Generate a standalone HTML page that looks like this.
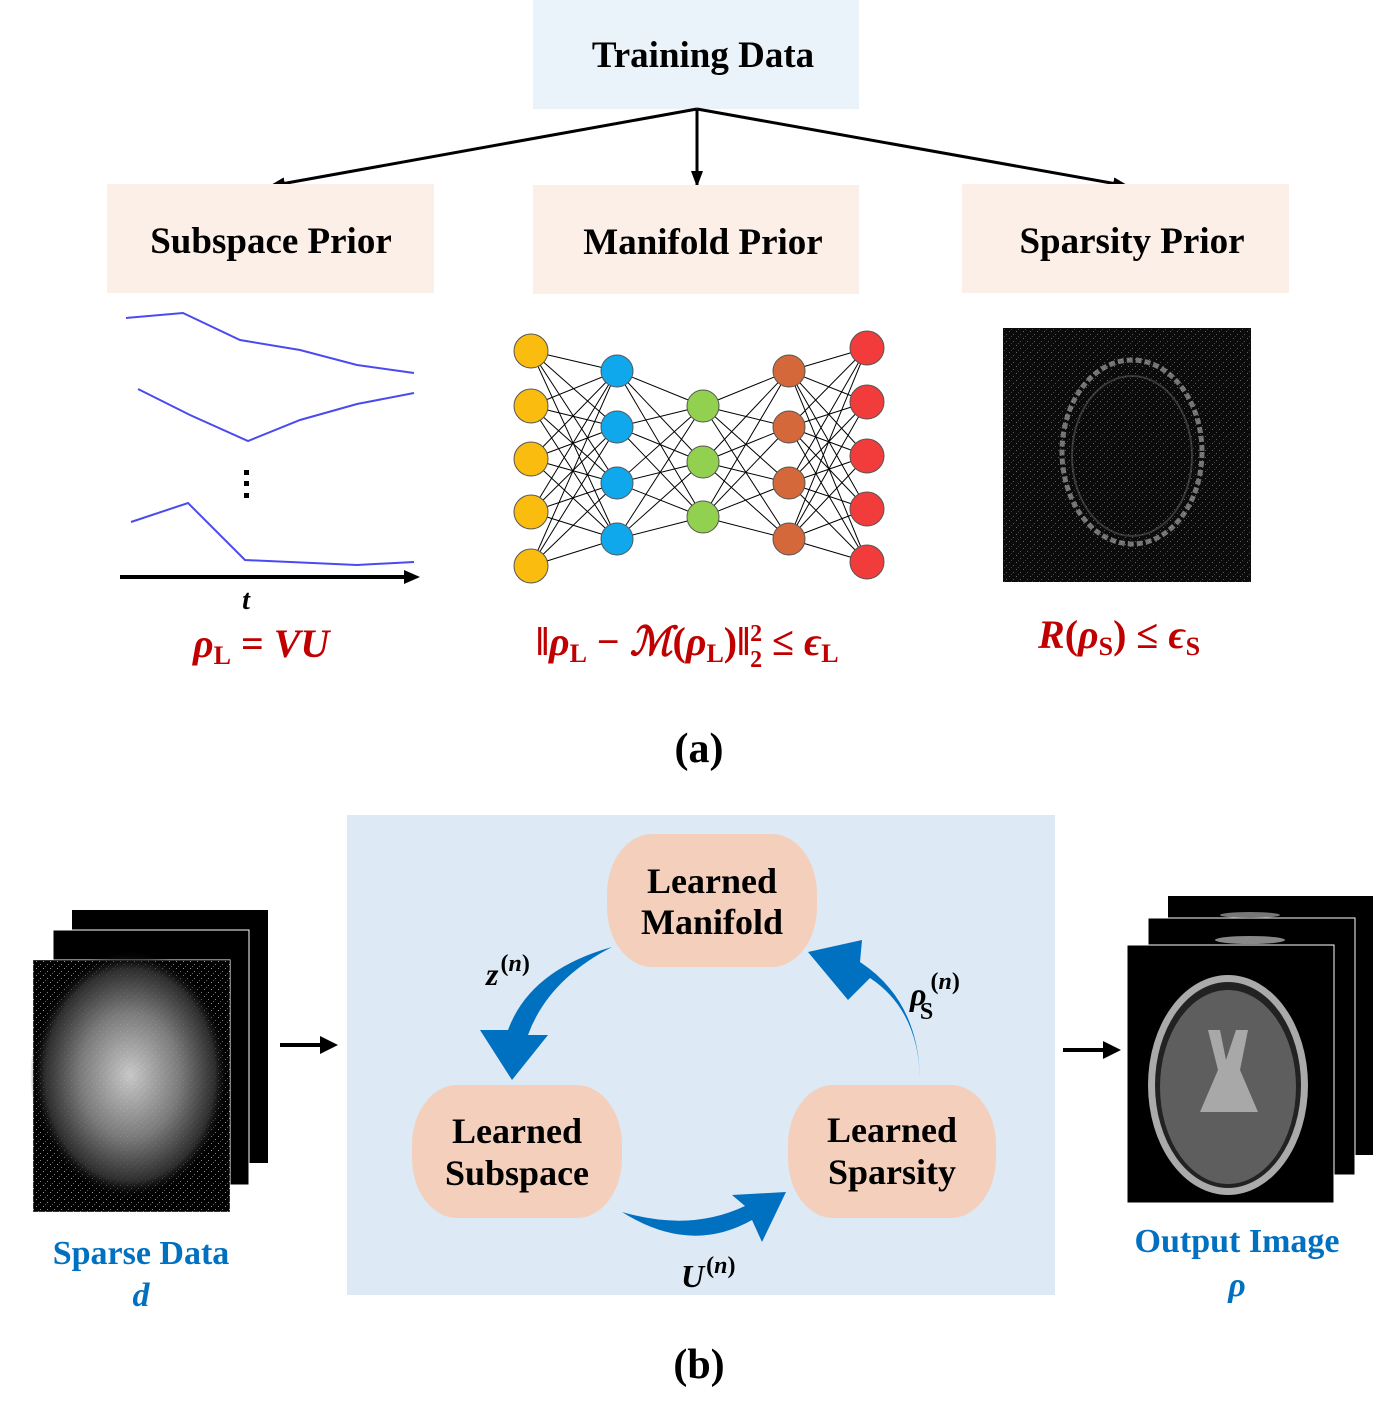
<!DOCTYPE html>
<html><head><meta charset="utf-8"><style>
body{margin:0;background:#fff;}
svg{display:block;}
.t{font-family:"Liberation Serif",serif;font-weight:bold;}
</style></head><body>
<svg width="1399" height="1419" viewBox="0 0 1399 1419" xmlns="http://www.w3.org/2000/svg">
<defs>
<marker id="ah" markerWidth="16" markerHeight="12" refX="15" refY="6" orient="auto" markerUnits="userSpaceOnUse"><path d="M0,0 L16,6 L0,12 Z" fill="#000"/></marker>
<radialGradient id="sp" cx="50%" cy="50%" r="50%"><stop offset="0" stop-color="#ddd"/><stop offset="0.5" stop-color="#888"/><stop offset="0.85" stop-color="#333"/><stop offset="1" stop-color="#000" stop-opacity="0"/></radialGradient>
<pattern id="noise" width="7" height="7" patternUnits="userSpaceOnUse"><rect width="7" height="7" fill="#000"/><rect x="1" y="2" width="1" height="1" fill="#fff"/><rect x="5" y="5" width="1" height="1" fill="#ddd"/><rect x="3" y="0" width="1" height="1" fill="#999"/></pattern>
</defs>
<rect x="533" y="0" width="326" height="109" fill="#ebf3fa"/>
<text x="703" y="67" class="t" font-size="37" text-anchor="middle">Training Data</text>
<line x1="697" y1="109" x2="697" y2="186" stroke="#000" stroke-width="3" marker-end="url(#ah)"/>
<line x1="697" y1="109" x2="270" y2="186" stroke="#000" stroke-width="3" marker-end="url(#ah)"/>
<line x1="697" y1="109" x2="1128" y2="186" stroke="#000" stroke-width="3" marker-end="url(#ah)"/>
<rect x="107" y="184" width="327" height="109" fill="#fcefe7"/>
<rect x="533" y="185" width="326" height="109" fill="#fcefe7"/>
<rect x="962" y="184" width="327" height="109" fill="#fcefe7"/>
<text x="271" y="253" class="t" font-size="37" text-anchor="middle">Subspace Prior</text>
<text x="703" y="254" class="t" font-size="37" text-anchor="middle">Manifold Prior</text>
<text x="1132" y="253" class="t" font-size="37" text-anchor="middle">Sparsity Prior</text>
<g fill="none" stroke="#4a4af0" stroke-width="2">
<polyline points="126,318 183,313 240,340 300,350 357,365 414,373"/>
<polyline points="138,389 190,415 248,441 300,420 357,404 414,393"/>
<polyline points="131,522 188,503 245,560 357,565 414,562"/>
</g>
<rect x="244" y="470" width="5" height="5"/><rect x="244" y="481" width="5" height="5"/><rect x="244" y="493" width="5" height="5"/>
<line x1="120" y1="577" x2="405" y2="577" stroke="#000" stroke-width="4"/>
<path d="M404,570 L420,577 L404,584 Z"/>
<text x="246" y="609" class="t" font-size="28" font-style="italic" text-anchor="middle">t</text>
<g class="t" fill="#c00000" font-style="italic">
<text x="193" y="657" font-size="40">ρ<tspan font-size="26" font-style="normal" dy="7">L</tspan><tspan dy="-7" font-style="normal"> = </tspan>VU</text>
<text x="536" y="655" font-size="40"><tspan font-style="normal">‖</tspan>ρ<tspan font-size="26" font-style="normal" dy="7">L</tspan><tspan dy="-7" font-style="normal"> − </tspan>ℳ<tspan font-style="normal">(</tspan>ρ<tspan font-size="26" font-style="normal" dy="7">L</tspan><tspan dy="-7" font-style="normal">)‖</tspan><tspan font-size="24" font-style="normal" dy="-14">2</tspan><tspan font-size="24" font-style="normal" dx="-12" dy="26">2</tspan><tspan dy="-12" font-style="normal"> ≤ </tspan>ϵ<tspan font-size="26" font-style="normal" dy="7">L</tspan></text>
<text x="1038" y="648" font-size="40">R<tspan font-style="normal">(</tspan>ρ<tspan font-size="26" font-style="normal" dy="7">S</tspan><tspan dy="-7" font-style="normal">) ≤ </tspan>ϵ<tspan font-size="26" font-style="normal" dy="7">S</tspan></text>
</g>
<g stroke="#000" stroke-width="1">
<path d="M531,351L617,371M531,351L617,427M531,351L617,483M531,351L617,539M531,406L617,371M531,406L617,427M531,406L617,483M531,406L617,539M531,459L617,371M531,459L617,427M531,459L617,483M531,459L617,539M531,512L617,371M531,512L617,427M531,512L617,483M531,512L617,539M531,566L617,371M531,566L617,427M531,566L617,483M531,566L617,539"/>
<path d="M617,371L703,406M617,371L703,462M617,371L703,517M617,427L703,406M617,427L703,462M617,427L703,517M617,483L703,406M617,483L703,462M617,483L703,517M617,539L703,406M617,539L703,462M617,539L703,517"/>
<path d="M789,371L703,406M789,371L703,462M789,371L703,517M789,427L703,406M789,427L703,462M789,427L703,517M789,483L703,406M789,483L703,462M789,483L703,517M789,539L703,406M789,539L703,462M789,539L703,517"/>
<path d="M867,348L789,371M867,348L789,427M867,348L789,483M867,348L789,539M867,402L789,371M867,402L789,427M867,402L789,483M867,402L789,539M867,456L789,371M867,456L789,427M867,456L789,483M867,456L789,539M867,509L789,371M867,509L789,427M867,509L789,483M867,509L789,539M867,562L789,371M867,562L789,427M867,562L789,483M867,562L789,539"/>
</g>
<g stroke="#555" stroke-width="1">
<g fill="#f9bc0f"><circle cx="531" cy="351" r="17"/><circle cx="531" cy="406" r="17"/><circle cx="531" cy="459" r="17"/><circle cx="531" cy="512" r="17"/><circle cx="531" cy="566" r="17"/></g>
<g fill="#10a8ec"><circle cx="617" cy="371" r="16"/><circle cx="617" cy="427" r="16"/><circle cx="617" cy="483" r="16"/><circle cx="617" cy="539" r="16"/></g>
<g fill="#92d050"><circle cx="703" cy="406" r="16"/><circle cx="703" cy="462" r="16"/><circle cx="703" cy="517" r="16"/></g>
<g fill="#d4683a"><circle cx="789" cy="371" r="16"/><circle cx="789" cy="427" r="16"/><circle cx="789" cy="483" r="16"/><circle cx="789" cy="539" r="16"/></g>
<g fill="#f23c3c"><circle cx="867" cy="348" r="17"/><circle cx="867" cy="402" r="17"/><circle cx="867" cy="456" r="17"/><circle cx="867" cy="509" r="17"/><circle cx="867" cy="562" r="17"/></g>
</g>
<rect x="1003" y="328" width="248" height="254" fill="#111"/>
<rect x="1003" y="328" width="248" height="254" fill="url(#noise)" opacity="0.35"/>
<ellipse cx="1132" cy="452" rx="70" ry="92" fill="none" stroke="#bbb" stroke-width="5" opacity="0.6" stroke-dasharray="6 3"/>
<ellipse cx="1132" cy="456" rx="60" ry="80" fill="none" stroke="#666" stroke-width="2" opacity="0.5"/>
<text x="699" y="762" class="t" font-size="42" text-anchor="middle">(a)</text>
<rect x="347" y="815" width="708" height="480" fill="#dde9f5"/>
<rect x="72" y="910" width="196" height="253" fill="#000"/>
<rect x="53" y="930" width="196" height="255" fill="#000" stroke="#fff" stroke-width="1"/>
<rect x="33" y="960" width="197" height="252" fill="#000" stroke="#fff" stroke-width="1"/>
<rect x="33" y="960" width="197" height="252" fill="url(#noise)" opacity="0.6"/>
<ellipse cx="130" cy="1075" rx="100" ry="125" fill="url(#sp)" opacity="0.9"/>
<line x1="280" y1="1045" x2="323" y2="1045" stroke="#000" stroke-width="4"/><path d="M320,1036 L338,1045 L320,1054 Z"/>
<line x1="1063" y1="1050" x2="1106" y2="1050" stroke="#000" stroke-width="4"/><path d="M1103,1041 L1121,1050 L1103,1059 Z"/>
<text x="141" y="1264" class="t" font-size="34" fill="#0070c0" text-anchor="middle">Sparse Data</text>
<text x="141" y="1306" class="t" font-size="34" fill="#0070c0" font-style="italic" text-anchor="middle">d</text>
<rect x="1168" y="896" width="205" height="259" fill="#000"/>
<rect x="1148" y="918" width="207" height="257" fill="#000" stroke="#fff"/>
<rect x="1127" y="945" width="207" height="258" fill="#000" stroke="#fff"/>
<ellipse cx="1250" cy="915" rx="30" ry="3" fill="#777"/>
<ellipse cx="1250" cy="940" rx="35" ry="4" fill="#888"/>
<ellipse cx="1228" cy="1085" rx="80" ry="110" fill="#aaa"/>
<ellipse cx="1228" cy="1085" rx="73" ry="103" fill="#222"/>
<ellipse cx="1228" cy="1087" rx="68" ry="97" fill="#5e5e5e"/>
<path d="M1208,1030 L1220,1030 L1226,1060 L1236,1030 L1248,1030 L1240,1070 L1258,1112 L1200,1112 L1218,1070 Z" fill="#a8a8a8"/>
<text x="1237" y="1252" class="t" font-size="34" fill="#0070c0" text-anchor="middle">Output Image</text>
<text x="1237" y="1296" class="t" font-size="34" fill="#0070c0" font-style="italic" text-anchor="middle">ρ</text>
<rect x="607" y="834" width="210" height="133" rx="45" ry="60" fill="#f4d0bc"/>
<rect x="412" y="1085" width="210" height="133" rx="45" ry="60" fill="#f4d0bc"/>
<rect x="788" y="1085" width="208" height="133" rx="45" ry="60" fill="#f4d0bc"/>
<g class="t" font-size="36" text-anchor="middle">
<text x="712" y="893">Learned</text><text x="712" y="934">Manifold</text>
<text x="517" y="1143">Learned</text><text x="517" y="1185">Subspace</text>
<text x="892" y="1142">Learned</text><text x="892" y="1184">Sparsity</text>
</g>
<g fill="#0070c0">
<path d="M612,947 Q530,970 508,1030 L480,1030 L512,1080 L548,1035 L528,1035 Q548,980 612,947 Z"/>
<path d="M920,1078 Q918,1010 870,978 L848,1000 L808,952 L862,940 L860,962 Q918,1000 920,1078 Z"/>
<path d="M622,1212 Q690,1255 752,1220 L762,1242 L786,1192 L732,1195 L745,1206 Q690,1232 622,1212 Z"/>
</g>
<g class="t" font-size="32" font-style="italic">
<text x="486" y="985">z<tspan font-size="24" dy="-14" dx="2" font-style="normal">(</tspan><tspan font-size="24">n</tspan><tspan font-size="24" font-style="normal">)</tspan></text>
<text x="910" y="1005">ρ<tspan font-size="24" dy="-16" dx="4" font-style="normal">(</tspan><tspan font-size="24">n</tspan><tspan font-size="24" font-style="normal">)</tspan><tspan font-size="24" font-style="normal" dx="-40" dy="30">S</tspan></text>
<text x="681" y="1287">U<tspan font-size="24" dy="-14" dx="2" font-style="normal">(</tspan><tspan font-size="24">n</tspan><tspan font-size="24" font-style="normal">)</tspan></text>
</g>
<text x="699" y="1378" class="t" font-size="42" text-anchor="middle">(b)</text>
</svg>
</body></html>
